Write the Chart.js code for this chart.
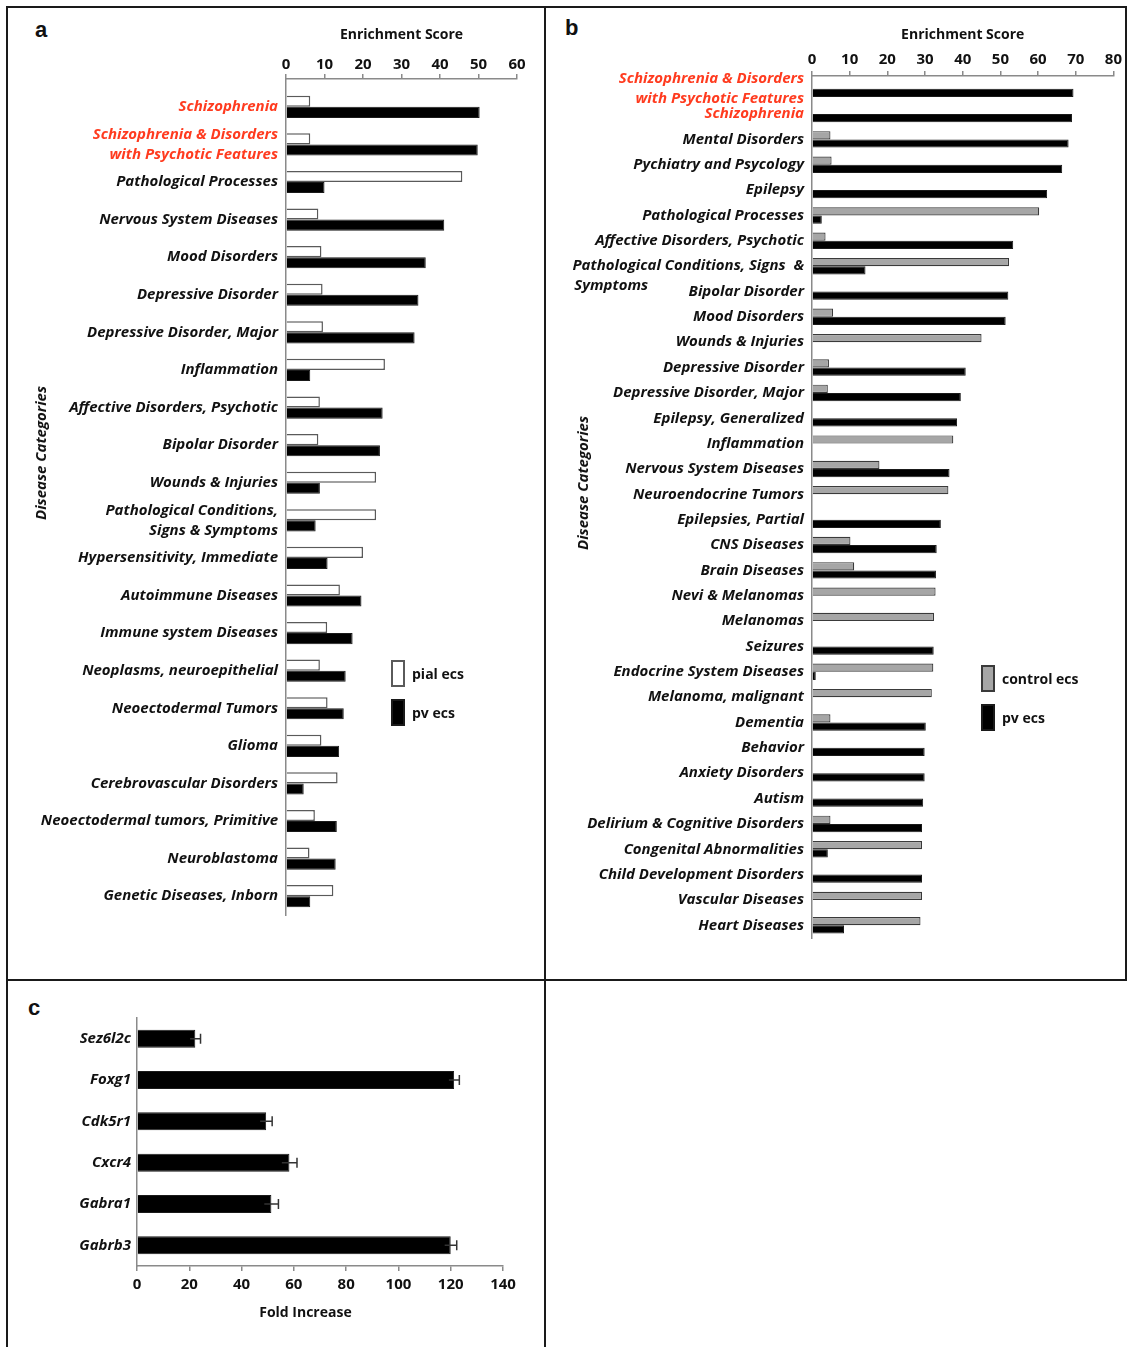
<!DOCTYPE html>
<html>
<head>
<meta charset="utf-8">
<script src="https://cdn.jsdelivr.net/npm/chart.js@4.4.1/dist/chart.umd.min.js"></script>
<style>
  html, body { margin: 0; padding: 0; background: #fff; }
  #fig { position: relative; width: 1127px; height: 1347px; overflow: hidden; font-family: "Open Sans", "DejaVu Sans", sans-serif; color: #111; }
  .rule { position: absolute; background: #1a1a1a; z-index: 2; }
  .panel { position: absolute; }
  .letter { position: absolute; font: bold 22px "Liberation Sans", Arial, sans-serif; line-height: 22px; }
  .ytitle { position: absolute; font: italic bold 15px "Open Sans", sans-serif; white-space: nowrap; transform: translate(-50%, -50%) rotate(-90deg); }
  .legend-item { position: absolute; display: flex; align-items: center; white-space: nowrap; font: bold 14px "Open Sans", sans-serif; }
  .swatch { box-sizing: border-box; width: 14px; height: 27px; margin-right: 7px; }
</style>
</head>
<body>
<div id="fig">
  <!-- panel frame -->
  <div class="rule" style="left:6px; top:6px; width:1121px; height:2px;"></div>
  <div class="rule" style="left:6px; top:6px; width:2px; height:1341px;"></div>
  <div class="rule" style="left:544px; top:6px; width:2px; height:1341px;"></div>
  <div class="rule" style="left:1125px; top:6px; width:2px; height:975px;"></div>
  <div class="rule" style="left:6px; top:979px; width:1121px; height:2px;"></div>

  <div class="letter" style="left:35px; top:19px;">a</div>
  <div class="letter" style="left:565px; top:17px;">b</div>
  <div class="letter" style="left:28px; top:997px;">c</div>

  <canvas id="chartA" class="panel" width="535" height="970" style="left:9px; top:9px;"></canvas>
  <canvas id="chartB" class="panel" width="577" height="970" style="left:547px; top:9px;"></canvas>
  <canvas id="chartC" class="panel" width="535" height="365" style="left:9px; top:982px;"></canvas>

  <div class="ytitle" style="left:40px; top:453px;">Disease Categories</div>
  <div class="ytitle" style="left:582px; top:483px;">Disease Categories</div>

  <div id="legendA"></div>
  <div id="legendB"></div>
</div>

<script>
// ---- Panel a: pial ecs vs pv ecs ----
const diseasesA = [
  'Schizophrenia',
  ['Schizophrenia & Disorders', 'with Psychotic Features'],
  'Pathological Processes',
  'Nervous System Diseases',
  'Mood Disorders',
  'Depressive Disorder',
  'Depressive Disorder, Major',
  'Inflammation',
  'Affective Disorders, Psychotic',
  'Bipolar Disorder',
  'Wounds & Injuries',
  ['Pathological Conditions,', 'Signs & Symptoms'],
  'Hypersensitivity, Immediate',
  'Autoimmune Diseases',
  'Immune system Diseases',
  'Neoplasms, neuroepithelial',
  'Neoectodermal Tumors',
  'Glioma',
  'Cerebrovascular Disorders',
  'Neoectodermal tumors, Primitive',
  'Neuroblastoma',
  'Genetic Diseases, Inborn'
];
const pialEcsA = [6.3, 6.3, 45.8, 8.4, 9.2, 9.5, 9.6, 25.7, 8.8, 8.4, 23.4, 23.4, 20.0, 14.0, 10.7, 8.8, 10.8, 9.2, 13.4, 7.5, 6.1, 12.3];
const pvEcsA   = [50.3, 49.8, 10.0, 41.1, 36.3, 34.4, 33.4, 6.3, 25.1, 24.4, 8.8, 7.7, 10.8, 19.6, 17.3, 15.5, 15.0, 13.8, 4.6, 13.2, 12.9, 6.3];
const highlightA = [0, 1];
const enrichTicksA = [0, 10, 20, 30, 40, 50, 60];

// ---- Panel b: control ecs vs pv ecs ----
const diseasesB = [
  ['Schizophrenia & Disorders', 'with Psychotic Features'],
  'Schizophrenia',
  'Mental Disorders',
  'Pychiatry and Psycology',
  'Epilepsy',
  'Pathological Processes',
  'Affective Disorders, Psychotic',
  ['', 'Pathological Conditions, Signs  &', 'Symptoms'],
  'Bipolar Disorder',
  'Mood Disorders',
  'Wounds & Injuries',
  'Depressive Disorder',
  'Depressive Disorder, Major',
  'Epilepsy, Generalized',
  'Inflammation',
  'Nervous System Diseases',
  'Neuroendocrine Tumors',
  'Epilepsies, Partial',
  'CNS Diseases',
  'Brain Diseases',
  'Nevi & Melanomas',
  'Melanomas',
  'Seizures',
  'Endocrine System Diseases',
  'Melanoma, malignant',
  'Dementia',
  'Behavior',
  'Anxiety Disorders',
  'Autism',
  'Delirium & Cognitive Disorders',
  'Congenital Abnormalities',
  'Child Development Disorders',
  'Vascular Diseases',
  'Heart Diseases'
];
const controlEcsB = [null, null, 4.9, 5.2, null, 60.3, 3.6, 52.3, null, 5.6, 45.0, 4.5, 4.2, null, 37.5, 17.9, 36.2, null, 10.2, 11.2, 32.8, 32.4, null, 32.2, 31.8, 4.9, null, null, null, 4.9, 29.2, null, 29.2, 28.8];
const pvEcsB      = [69.4, 69.0, 68.1, 66.4, 62.4, 2.6, 53.4, 14.2, 52.1, 51.4, null, 40.8, 39.5, 38.5, null, 36.5, null, 34.2, 33.1, 32.9, null, null, 32.3, 1.0, null, 30.2, 29.9, 29.9, 29.5, 29.2, 4.2, 29.2, null, 8.5];
const highlightB = [0, 1];
const enrichTicksB = [0, 10, 20, 30, 40, 50, 60, 70, 80];

// ---- Panel c: qPCR fold increase ----
const genesC = ['Sez6l2c', 'Foxg1', 'Cdk5r1', 'Cxcr4', 'Gabra1', 'Gabrb3'];
const foldC  = [22.3, 121.3, 49.4, 58.3, 51.4, 120.0];
const semC   = [2.0, 2.0, 2.3, 2.9, 2.7, 2.3];
const foldTicksC = [0, 20, 40, 60, 80, 100, 120, 140];

// ---- shared styling ----
const FAMILY = '"Open Sans", "DejaVu Sans", sans-serif';
const RED = '#ff3b1f';
const INK = '#111111';
const AXIS = '#8a8a8a';
const labelFont = { family: FAMILY, size: 15, style: 'italic', weight: 'bold', lineHeight: 1.33 };
const numberFont = { family: FAMILY, size: 15, weight: 'bold', lineHeight: 1.2 };
const titleFont = { family: FAMILY, size: 14, weight: 'bold', lineHeight: 1.2 };

const colors = {
  pial:    { fill: '#ffffff', edge: '#5a5a5a' },
  control: { fill: '#a6a6a6', edge: '#3a3a3a' },
  pv:      { fill: '#000000', edge: '#1a1a1a' }
};

// Right-pad a line with spaces to a given extra width (keeps centred titles off-centre
// or makes a continuation line start under its first line).
function spaceFill(line, extraPx, font) {
  const ctx = document.createElement('canvas').getContext('2d');
  ctx.font = font;
  const sp = ctx.measureText(' ').width;
  return line + ' '.repeat(Math.max(0, Math.round(extraPx / sp)));
}
function alignLeftUnder(line, ref) {
  const ctx = document.createElement('canvas').getContext('2d');
  const font = 'italic bold 15px ' + FAMILY;
  ctx.font = font;
  return spaceFill(line, ctx.measureText(ref).width - ctx.measureText(line).width, font);
}
const labelsB = diseasesB.map(l => Array.isArray(l) && l.length === 3
  ? [l[0], l[1], alignLeftUnder(l[2], l[1])] : l);

function topAxis(max, ticks, height, pad) {
  return {
    type: 'linear', position: 'top', min: 0, max: max,
    afterBuildTicks: s => { s.ticks = ticks.map(v => ({ value: v })); },
    afterFit: s => { s.height = height; },
    ticks: { font: numberFont, color: INK, padding: pad, maxRotation: 0, autoSkip: false },
    grid: { display: true, drawOnChartArea: false, drawTicks: true, tickLength: 5, color: AXIS, lineWidth: 1.5 },
    border: { display: true, color: AXIS, width: 1.5 },
    title: { display: true, text: 'Enrichment Score', color: INK, font: titleFont, padding: { top: 8, bottom: 0 } }
  };
}

const common = {
  indexAxis: 'y', responsive: false, animation: false,
  plugins: { legend: { display: false }, tooltip: { enabled: false } }
};

// ---- chart a ----
const chartA = new Chart(document.getElementById('chartA'), {
  type: 'bar',
  data: {
    datasets: [
      { label: 'pial ecs', data: pialEcsA.map((v, i) => ({ x: v, y: i })),
        backgroundColor: colors.pial.fill, borderColor: colors.pial.edge, borderWidth: 1.5,
        categoryPercentage: 0.59, barPercentage: 1 },
      { label: 'pv ecs', data: pvEcsA.map((v, i) => ({ x: v, y: i })),
        backgroundColor: colors.pv.fill, borderColor: colors.pv.edge, borderWidth: 1,
        categoryPercentage: 0.59, barPercentage: 1 }
    ]
  },
  options: Object.assign({}, common, {
    layout: { padding: { left: 0, right: 27, top: 10, bottom: 64 } },
    scales: {
      x: topAxis(60, enrichTicksA, 60, 0),
      y: {
        type: 'linear', reverse: true, offset: false, min: -0.74, max: 21.5, bounds: 'data',
        afterBuildTicks: s => { s.ticks = diseasesA.map((_, i) => ({ value: i })); },
        afterFit: s => { s.width = 277; },
        ticks: { autoSkip: false, font: labelFont, padding: 8,
                 color: c => highlightA.includes(c.index) ? RED : INK,
                 callback: v => diseasesA[v] },
        grid: { display: false, drawTicks: false },
        border: { display: true, color: AXIS, width: 1.5 }
      }
    }
  })
});

// ---- chart b ----
const chartB = new Chart(document.getElementById('chartB'), {
  type: 'bar',
  data: {
    labels: labelsB,
    datasets: [
      { label: 'control ecs', data: controlEcsB,
        backgroundColor: colors.control.fill, borderColor: colors.control.edge, borderWidth: 1.2,
        categoryPercentage: 0.65, barPercentage: 1 },
      { label: 'pv ecs', data: pvEcsB,
        backgroundColor: colors.pv.fill, borderColor: colors.pv.edge, borderWidth: 1,
        categoryPercentage: 0.65, barPercentage: 1 }
    ]
  },
  options: Object.assign({}, common, {
    layout: { padding: { left: 0, right: 10, top: 10, bottom: 41 } },
    scales: {
      x: topAxis(80, enrichTicksB, 57, 2),
      y: {
        type: 'category',
        afterFit: s => { s.width = 265; },
        ticks: { autoSkip: false, font: labelFont, padding: 8,
                 color: c => highlightB.includes(c.index) ? RED : INK },
        grid: { display: false, drawTicks: false },
        border: { display: true, color: AXIS, width: 1.5 }
      }
    }
  })
});

// ---- chart c, with SEM whiskers ----
const errorBars = {
  id: 'errorBars',
  afterDatasetsDraw(chart) {
    const { ctx, scales: { x } } = chart;
    const bars = chart.getDatasetMeta(0).data;
    ctx.save();
    ctx.strokeStyle = '#333';
    ctx.lineWidth = 1.5;
    bars.forEach((bar, i) => {
      const lo = x.getPixelForValue(foldC[i] - semC[i]);
      const hi = x.getPixelForValue(foldC[i] + semC[i]);
      ctx.beginPath();
      ctx.moveTo(lo, bar.y); ctx.lineTo(hi, bar.y);
      ctx.moveTo(hi, bar.y - 5); ctx.lineTo(hi, bar.y + 5);
      ctx.stroke();
    });
    ctx.restore();
  }
};

const chartC = new Chart(document.getElementById('chartC'), {
  type: 'bar',
  data: {
    labels: genesC,
    datasets: [
      { label: 'Fold Increase', data: foldC,
        backgroundColor: '#000', borderColor: '#1a1a1a', borderWidth: 1,
        categoryPercentage: 1, barPercentage: 0.435 }
    ]
  },
  plugins: [errorBars],
  options: Object.assign({}, common, {
    layout: { padding: { left: 0, right: 41, top: 36, bottom: 20 } },
    scales: {
      x: {
        type: 'linear', position: 'bottom', min: 0, max: 140,
        afterBuildTicks: s => { s.ticks = foldTicksC.map(v => ({ value: v })); },
        afterFit: s => { s.height = 61; },
        ticks: { font: numberFont, color: INK, padding: 5, maxRotation: 0, autoSkip: false },
        grid: { display: true, drawOnChartArea: false, drawTicks: true, tickLength: 5, color: AXIS, lineWidth: 1.5 },
        border: { display: true, color: AXIS, width: 1.5 },
        title: { display: true, text: spaceFill('Fold Increase', 30, 'bold 14px ' + FAMILY), color: INK,
                 font: titleFont, padding: { top: 0, bottom: 6 } }
      },
      y: {
        type: 'category',
        afterFit: s => { s.width = 128; },
        ticks: { autoSkip: false, font: labelFont, color: INK, padding: 6 },
        grid: { display: false, drawTicks: false },
        border: { display: true, color: AXIS, width: 1.5 }
      }
    }
  })
});

// ---- legends built from the chart datasets ----
function buildLegend(hostId, chart, left, tops) {
  const host = document.getElementById(hostId);
  chart.data.datasets.forEach((ds, i) => {
    const item = document.createElement('div');
    item.className = 'legend-item';
    item.style.left = left + 'px';
    item.style.top = tops[i] + 'px';
    const sw = document.createElement('div');
    sw.className = 'swatch';
    sw.style.background = ds.backgroundColor;
    sw.style.border = '2px solid ' + ds.borderColor;
    const tx = document.createElement('span');
    tx.textContent = ds.label;
    item.appendChild(sw);
    item.appendChild(tx);
    host.appendChild(item);
  });
}
buildLegend('legendA', chartA, 391, [660, 699]);
buildLegend('legendB', chartB, 981, [665, 704]);
</script>
</body>
</html>
